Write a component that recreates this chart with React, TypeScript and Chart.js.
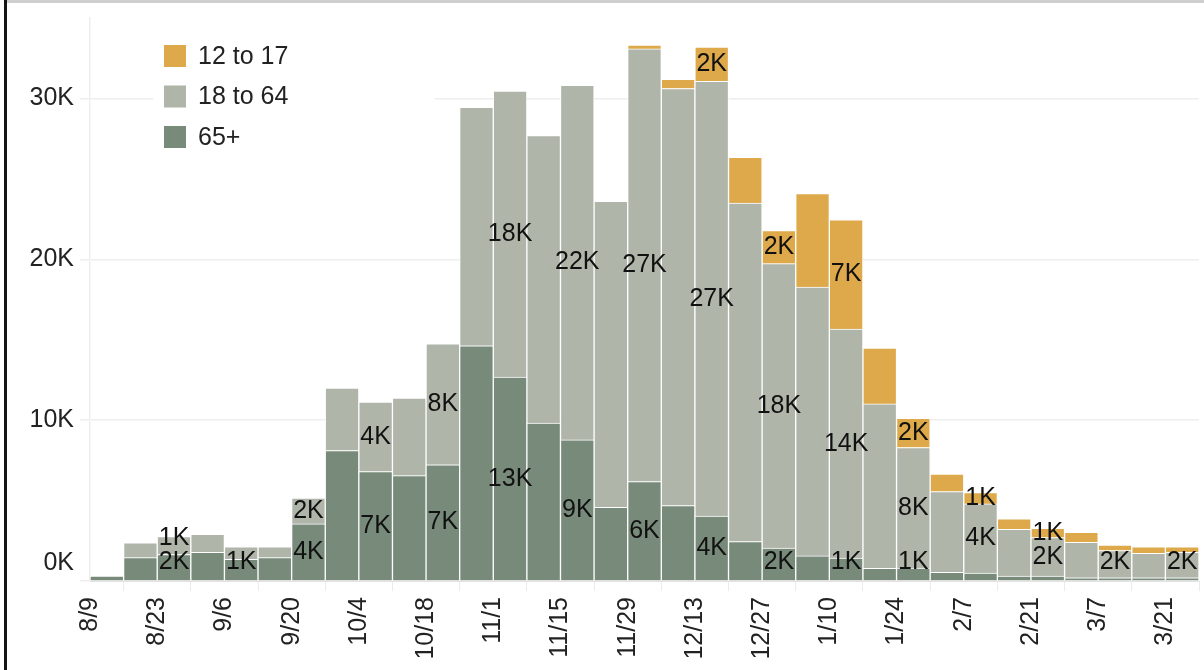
import { useEffect, useRef } from 'react';
import { Chart, registerables } from 'chart.js';

Chart.register(...registerables);

const weeks = ['8/9','8/16','8/23','8/30','9/6','9/13','9/20','9/27','10/4','10/11','10/18','10/25','11/1','11/8','11/15','11/22','11/29','12/6','12/13','12/20','12/27','1/3','1/10','1/17','1/24','1/31','2/7','2/14','2/21','2/28','3/7','3/14','3/21'];

const age65plus = [300,1450,1650,1790,1350,1450,3550,8110,6800,6550,7220,14620,12670,9810,8770,4580,6180,4690,4040,2450,2050,1560,1420,790,800,540,500,310,310,200,200,200,200];
const age18to64 = [0,930,1110,1110,780,680,1600,3880,4320,4820,7530,14830,17780,17880,22050,19020,26900,25930,27030,21050,17680,16710,14240,10220,7500,5020,4290,2900,2390,2210,1690,1520,1590];
const age12to17 = [0,0,0,0,0,0,0,0,0,0,0,0,0,0,0,0,230,560,2120,2840,2050,5810,6800,3470,1820,1080,710,650,580,620,350,410,340];

const seriesNames = ['65+', '18 to 64', '12 to 17'];
const seriesColors = ['#788A7A', '#B0B5AA', '#DDA94A'];
const yTickValues = [0, 10000, 20000, 30000];

const FONT = '"Liberation Sans", Arial, sans-serif';
const TEXT = '#222222';

const fmtK = (v: number) => Math.round(v / 1000) + 'K';

const barLabels = {
  id: 'barLabels',
  afterDatasetsDraw(chart: any) {
    const ctx = chart.ctx;
    const yScale = chart.scales.y;
    const zeroY = yScale.getPixelForValue(0);
    ctx.save();
    ctx.font = `25px ${FONT}`;
    ctx.fillStyle = '#111';
    ctx.textAlign = 'center';
    ctx.textBaseline = 'middle';
    const n = weeks.length;
    for (let i = 0; i < n; i++) {
      if (i % 2 !== 0) continue;
      let prevY: number | null = null;
      chart.data.datasets.forEach((ds: any, di: number) => {
        const v = ds.data[i].y;
        if (v < 550) return;
        const el = chart.getDatasetMeta(di).data[i];
        const top = el.y;
        const base = el.base;
        const center = (top + base) / 2;
        let y: number;
        if (prevY === null) {
          y = Math.min(center, zeroY - 19);
        } else {
          y = Math.min(center, prevY - 24);
          if (y < top - 4) return;
        }
        ctx.fillText(fmtK(v), el.x, y);
        prevY = y;
      });
    }
    ctx.restore();
  },
};

const boxLegend = {
  id: 'boxLegend',
  afterDraw(chart: any) {
    const ctx = chart.ctx;
    ctx.save();
    ctx.fillStyle = '#ffffff';
    ctx.fillRect(153, 28, 282, 135);
    const items = chart.data.datasets.slice().reverse();
    ctx.font = `25px ${FONT}`;
    ctx.textBaseline = 'middle';
    ctx.textAlign = 'left';
    items.forEach((ds: any, k: number) => {
      const cy = 56 + k * 40.5;
      ctx.fillStyle = ds.backgroundColor;
      ctx.fillRect(164, cy - 11, 22, 22);
      ctx.fillStyle = TEXT;
      ctx.fillText(ds.label, 198, cy + 1);
    });
    ctx.restore();
  },
};

export default function App() {
  const ref = useRef<HTMLCanvasElement | null>(null);

  useEffect(() => {
    if (!ref.current) return;
    const seriesValues = [age65plus, age18to64, age12to17];
    const chart = new Chart(ref.current, {
      type: 'bar',
      data: {
        datasets: seriesValues.map((vals, s) => ({
          label: seriesNames[s],
          data: vals.map((v, i) => ({ x: i + 0.5, y: v })),
          backgroundColor: seriesColors[s],
          borderColor: '#ffffff',
          borderWidth: 1,
          categoryPercentage: 1,
          barPercentage: 1,
        })),
      },
      options: {
        responsive: false,
        animation: false,
        devicePixelRatio: 1,
        layout: { padding: { top: 18, right: 5, left: 0, bottom: 0 } },
        plugins: { legend: { display: false }, tooltip: { enabled: false } },
        scales: {
          x: {
            type: 'linear',
            min: 0,
            max: weeks.length,
            stacked: true,
            offset: false,
            afterFit: (s: any) => { s.height = 89; s.paddingLeft = 0; s.paddingRight = 0; },
            grid: {
              drawOnChartArea: false,
              drawTicks: true,
              tickLength: 10,
              color: '#ebebeb',
            },
            border: { display: true, color: '#e2e2e2' },
            ticks: {
              stepSize: 2,
              autoSkip: false,
              includeBounds: false,
              maxRotation: 90,
              minRotation: 90,
              padding: 6,
              color: TEXT,
              font: { family: FONT, size: 25 },
              callback: (v: any) => {
                const n = Number(v);
                return Number.isInteger(n) && n % 2 === 0 && weeks[n] ? weeks[n] : null;
              },
            },
          },
          y: {
            stacked: true,
            min: 0,
            max: 35000,
            afterFit: (s: any) => { s.width = 90; s.paddingTop = 0; s.paddingBottom = 0; },
            afterBuildTicks: (s: any) => { s.ticks = yTickValues.map((v) => ({ value: v })); },
            grid: { color: '#eeeeee', tickLength: 10, lineWidth: 1.5 },
            border: { display: true, color: '#eeeeee', width: 1.5 },
            ticks: {
              includeBounds: false,
              padding: 6,
              color: TEXT,
              font: { family: FONT, size: 25, lineHeight: 1.44 },
              callback: (v: any) => (Number(v) === 0 ? ['0K', ''] : fmtK(Number(v))),
            },
          },
        },
      },
      plugins: [barLabels, boxLegend],
    } as any);
    return () => chart.destroy();
  }, []);

  return (
    <div style={{ position: 'absolute', left: 0, top: 0, width: 1204, height: 670, background: '#fff', overflow: 'hidden' }}>
      <div style={{ position: 'absolute', left: 4, top: 0, width: 3, height: 670, background: '#151515' }} />
      <div style={{ position: 'absolute', left: 7, top: 0, width: 1197, height: 3, background: '#cfcfcf' }} />
      <canvas ref={ref} width={1204} height={670} style={{ position: 'absolute', left: 0, top: 0 }} />
    </div>
  );
}
